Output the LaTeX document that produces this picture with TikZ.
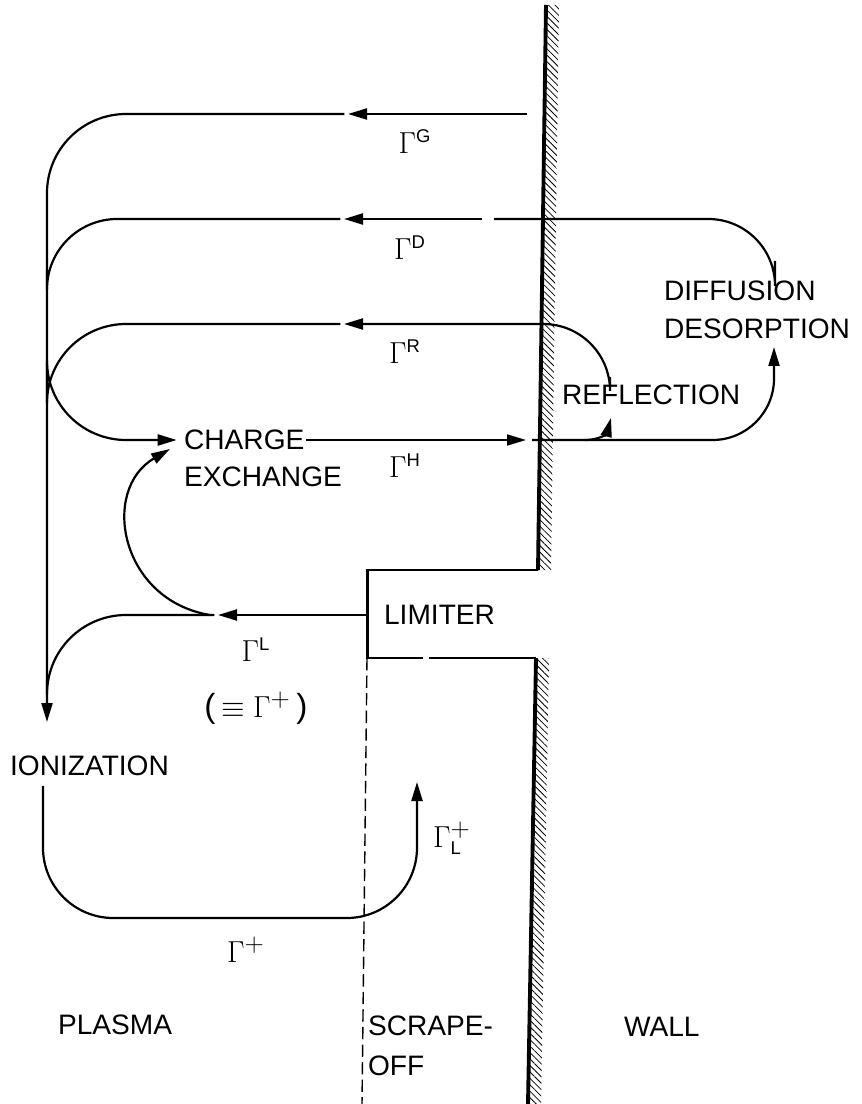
\documentclass[tikz,border=0pt]{standalone}
\usepackage{fontspec}
\setmainfont{Liberation Sans}
\usepackage{tikz}
\usetikzlibrary{arrows.meta, patterns.meta}

\newcommand{\flux}[1]{$\Gamma^{\mbox{\fontsize{10.5}{12}\selectfont #1}}$}
\newcommand{\fluxsub}[2]{$\Gamma^{#1}_{\mbox{\fontsize{10.5}{12}\selectfont #2}}$}

\begin{document}
\begin{tikzpicture}[
    x=0.02cm, y=-0.02cm,
    flow/.style={line width=1.25pt},
    arr/.style={flow, -{Triangle[length=3.8mm, width=2.2mm]}},
    wallline/.style={line width=2.2pt},
    limline/.style={line width=1.7pt},
    hatch/.style={pattern={Lines[angle=-45, distance=2.6pt, line width=0.45pt]}},
    sepline/.style={line width=0.8pt, dash pattern=on 7pt off 3pt},
    lbl/.style={font=\fontsize{16}{19}\selectfont, inner sep=1pt},
    gam/.style={font=\fontsize{19}{22}\selectfont, inner sep=1pt}
]
    \useasboundingbox (0,0) rectangle (861,1104);

    % wall and limiter
    \fill[hatch] (546,5) -- (559,5) -- (551,570) -- (538,570) -- cycle;
    \draw[wallline] (546,5) -- (538,570);
    \fill[hatch] (536,658) -- (549,658) -- (541,1104) -- (528,1104) -- cycle;
    \draw[wallline] (536,658) -- (528,1104);
    \draw[limline] (538,570) -- (367,570) -- (367,658) -- (423,658);
    \draw[limline] (429,658) -- (536,658);
    \draw[sepline] (367,658) -- (362,1104);

    % texts
    \node[lbl, anchor=west] (charge) at (182,440) {CHARGE};
    \node[lbl, anchor=west] (exch) at (182,477) {EXCHANGE};
    \node[lbl, anchor=west] (diff) at (662,291) {DIFFUSION};
    \node[lbl, anchor=west] (desorp) at (662,329) {DESORPTION};
    \node[lbl, anchor=west] (refl) at (560,395) {REFLECTION};
    \node[lbl, anchor=west] (limiter) at (382,615) {LIMITER};
    \node[lbl, anchor=west] (ion) at (8,766) {IONIZATION};
    \node[lbl, anchor=west] (plasma) at (56,1025) {PLASMA};
    \node[lbl, anchor=west] (scrape) at (366,1026) {SCRAPE-};
    \node[lbl, anchor=west] (off) at (366,1066) {OFF};
    \node[lbl, anchor=west] (wall) at (622,1027) {WALL};

    \node[gam] (lbG) at (415,142) {\flux{G}};
    \node[gam] (lbD) at (410,248) {\flux{D}};
    \node[gam] (lbR) at (405,352) {\flux{R}};
    \node[gam] (lbH) at (405,466) {\flux{H}};
    \node[gam] (lbL) at (256,650) {\flux{L}};
    \node[gam] (lbEq) at (256,708) {(\,$\equiv\Gamma^{+}$\,)};
    \node[gam] (lbP) at (246,950) {$\Gamma^{+}$};
    \node[gam] (lbLP) at (452,838) {\fluxsub{+}{L}};

    % flux end points
    \coordinate (g0) at (527,114);
    \coordinate (gt) at (348,114);
    \coordinate (iontop) at (47,722);
    \coordinate (d0) at (775,261);
    \coordinate (d1) at (494,219);
    \coordinate (d2) at (482,219);
    \coordinate (dt) at (344,219);
    \coordinate (dm) at (47,270);
    \coordinate (r0) at (610,377);
    \coordinate (rt) at (344,324);
    \coordinate (ht) at (526,440);
    \coordinate (h0) at (532,440);
    \coordinate (hm) at (585,440);
    \coordinate (reft) at (611,418);
    \coordinate (dest) at (774,347);
    \coordinate (limL) at (367,615);
    \coordinate (lt) at (218,615);
    \coordinate (lm) at (47,680);
    \coordinate (cx0) at (210,615);
    \coordinate (cxt) at (170,449);
    \coordinate (ionb) at (43,786);
    \coordinate (lb) at (417,918);
    \coordinate (lp) at (417,782);

    % fluxes
    \draw[arr] (g0) -- (gt);
    \draw[arr, rounded corners=45, shorten <=2pt] (gt) -| (iontop);
    \draw[flow, rounded corners=38] (d0) |- (d1);
    \draw[arr] (d2) -- (dt);
    \draw[flow, rounded corners=40, shorten <=2pt] (dt) -| (dm);
    \draw[arr, rounded corners=38] (r0) |- (rt);
    \draw[arr, rounded corners=45, shorten <=2pt, shorten >=3pt] (rt) -- (47,324) -- (47,440) -- (charge.west);
    \draw[arr] (charge.east) -- (ht);
    \draw[arr] (h0) -- (hm) .. controls (600,440) and (607,433) .. (reft);
    \draw[arr, rounded corners=35] (hm) -| (dest);
    \draw[arr] (limL) -- (lt);
    \draw[flow, rounded corners=45, shorten <=2pt] (lt) -| (lm);
    \draw[arr] (cx0) .. controls (120,600) and (100,490) .. (cxt);
    \draw[arr, rounded corners=40] (ionb) |- (lb) -- (lp);
\end{tikzpicture}
\end{document}
